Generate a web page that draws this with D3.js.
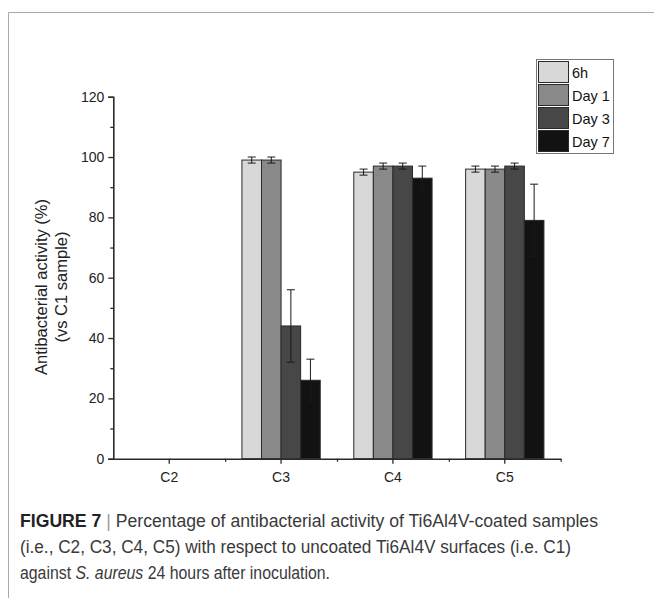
<!DOCTYPE html>
<html>
<head>
<meta charset="utf-8">
<script src="https://cdn.jsdelivr.net/npm/d3@7"></script>
<style>
  body { margin: 0; background: #fff; }
  svg { display: block; font-family: "Liberation Sans", Arial, sans-serif; }
</style>
</head>
<body>
<svg id="chart" width="654" height="598"></svg>
<script>
//Categories on the x axis
var samples = ["C2", "C3", "C4", "C5"];
//Time points (series)
var times = ["6h", "Day 1", "Day 3", "Day 7"];
//Mean values per series, one per sample
var val6h = [0, 99, 95, 96];
var valDay1 = [0, 99, 97, 96];
var valDay3 = [0, 44, 97, 97];
var valDay7 = [0, 26, 93, 79];
//Error (+/-) per series
var err6h = [0, 1, 1, 1];
var errDay1 = [0, 1, 1, 1];
var errDay3 = [0, 12, 1, 1];
var errDay7 = [0, 7, 4, 12];
//Y axis ticks
var yTicks = [0, 20, 40, 60, 80, 100, 120];
var yMinor = [10, 30, 50, 70, 90, 110];

var fills = ["#d8d8d8", "#898989", "#474747", "#121212"];
var values = [val6h, valDay1, valDay3, valDay7];
var errors = [err6h, errDay1, errDay3, errDay7];

var svg = d3.select("#chart");

//Figure frame
svg.append("path")
    .attr("d", "M8.5,598 L8.5,12.5 L654,12.5")
    .attr("fill", "none")
    .attr("stroke", "#a8a8a8")
    .attr("stroke-width", 1);

//Scales
var x = d3.scaleBand().domain(samples).range([113.3, 560.7]).padding(0);
var groupW = x.bandwidth() * 0.7;
var xs = d3.scaleBand().domain(times).range([0, groupW]).padding(0);
var y = d3.scaleLinear().domain([0, 120]).range([458.7, 96.7]);

//Bars
var barG = svg.append("g");
times.forEach(function(t, ti){
    samples.forEach(function(s, si){
        var v = values[ti][si];
        if (!v) return;
        var bx = x(s) + (x.bandwidth() - groupW) / 2 + xs(t);
        barG.append("rect")
            .attr("x", bx)
            .attr("y", y(v))
            .attr("width", xs.bandwidth())
            .attr("height", y(0) - y(v))
            .attr("fill", fills[ti])
            .attr("stroke", "#2a2a2a")
            .attr("stroke-width", 1);
    });
});

//Error bars
var errG = svg.append("g").attr("stroke", "#1a1a1a").attr("stroke-width", 1);
times.forEach(function(t, ti){
    samples.forEach(function(s, si){
        var v = values[ti][si], e = errors[ti][si];
        if (!v) return;
        var cx = x(s) + (x.bandwidth() - groupW) / 2 + xs(t) + xs.bandwidth() / 2;
        var top = y(v + e), bot = y(v - e);
        errG.append("line").attr("x1", cx).attr("x2", cx).attr("y1", top).attr("y2", bot);
        errG.append("line").attr("x1", cx - 4).attr("x2", cx + 4).attr("y1", top).attr("y2", top);
        errG.append("line").attr("x1", cx - 4).attr("x2", cx + 4).attr("y1", bot).attr("y2", bot);
    });
});

//Y axis
svg.append("g")
    .attr("transform", "translate(113.3,0)")
    .call(d3.axisLeft(y).tickValues(yTicks).tickSize(5).tickPadding(4));
svg.append("g")
    .attr("transform", "translate(113.3,0)")
    .call(d3.axisLeft(y).tickValues(yMinor).tickSize(3).tickFormat(""))
    .select(".domain").remove();

//X axis
svg.append("g")
    .attr("transform", "translate(0,458.7)")
    .call(d3.axisBottom(x).tickSize(5).tickPadding(8).tickSizeOuter(0));
svg.append("g")
    .attr("transform", "translate(0,458.7)")
    .call(d3.axisBottom(d3.scaleLinear().domain([0, 4]).range([113.3, 560.7]))
        .tickValues([1, 2, 3, 4]).tickSize(3).tickFormat(""))
    .select(".domain").remove();

svg.selectAll(".domain").attr("stroke", "#2a2a2a").attr("stroke-width", 1.6);
svg.selectAll(".tick line").attr("stroke", "#2a2a2a").attr("stroke-width", 1.3);
svg.selectAll(".tick text").attr("fill", "#222").style("font-size", "14px")
    .style("font-family", "'Liberation Sans', Arial, sans-serif");

//Y axis title
var titleG = svg.append("g")
    .attr("transform", "translate(47,287) rotate(-90)")
    .attr("text-anchor", "middle")
    .attr("fill", "#222")
    .style("font-size", "16.5px");
titleG.append("text").attr("x", 0).attr("y", 0).text("Antibacterial activity (%)");
titleG.append("text").attr("x", 0).attr("y", 20).text("(vs C1 sample)");

//Legend
var legend = svg.append("g").attr("transform", "translate(536,59)");
legend.append("rect")
    .attr("x", 0.5).attr("y", 0.5)
    .attr("width", 77).attr("height", 94)
    .attr("fill", "#fff")
    .attr("stroke", "#777")
    .attr("stroke-width", 1);
times.forEach(function(t, ti){
    legend.append("rect")
        .attr("x", 2.5).attr("y", 2.5 + ti * 23)
        .attr("width", 30).attr("height", 21)
        .attr("fill", fills[ti])
        .attr("stroke", "#2a2a2a")
        .attr("stroke-width", 1);
    legend.append("text")
        .attr("x", 36).attr("y", 19 + ti * 23)
        .attr("fill", "#111")
        .style("font-size", "14.5px")
        .text(t);
});

//Caption
var cap = svg.append("g")
    .attr("fill", "#3a3a3a")
    .style("font-family", "'Liberation Sans', Arial, sans-serif")
    .style("font-size", "17.5px");
var l1 = cap.append("text").attr("x", 20).attr("y", 527)
    .attr("textLength", 578).attr("lengthAdjust", "spacingAndGlyphs");
l1.append("tspan").style("font-weight", "bold").attr("fill", "#222").text("FIGURE 7");
l1.append("tspan").attr("fill", "#999").text(" | ");
l1.append("tspan").text("Percentage of antibacterial activity of Ti6Al4V-coated samples");
cap.append("text").attr("x", 20).attr("y", 553)
    .attr("textLength", 551).attr("lengthAdjust", "spacingAndGlyphs")
    .text("(i.e., C2, C3, C4, C5) with respect to uncoated Ti6Al4V surfaces (i.e. C1)");
var l3 = cap.append("text").attr("x", 20).attr("y", 579)
    .attr("textLength", 310).attr("lengthAdjust", "spacingAndGlyphs");
l3.append("tspan").text("against ");
l3.append("tspan").style("font-style", "italic").text("S. aureus");
l3.append("tspan").text(" 24 hours after inoculation.");
</script>
</body>
</html>
